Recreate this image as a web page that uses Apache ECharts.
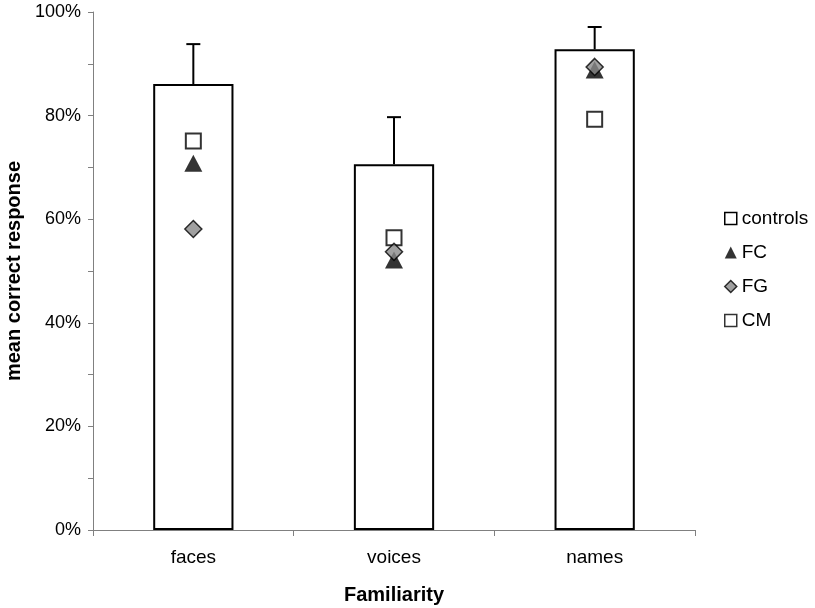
<!DOCTYPE html>
<html>
<head>
<meta charset="utf-8">
<script src="https://cdn.jsdelivr.net/npm/echarts@6/dist/echarts.min.js"></script>
<style>
  html, body { margin: 0; padding: 0; background: #fff; }
  #main { width: 815px; height: 608px; }
</style>
</head>
<body>
<div id="main"></div>
<script>
// familiarity categories
var categories = ["faces", "voices", "names"];
// controls mean (bars) and upper error bar end, in %
var controls = [86.1, 70.6, 92.8];
var controlsErrTop = [93.8, 79.7, 97.1];
// single patients
var fc = [70.8, 52.1, 88.8];
var fg = [58.1, 53.7, 89.4];
var cm = [75.1, 56.4, 79.3];
var yTicks = [0, 20, 40, 60, 80, 100];

var chart = echarts.init(document.getElementById("main"));
var font = "Liberation Sans, Arial, sans-serif";

var errData = categories.map(function (c, i) {
  return [i, controls[i], controlsErrTop[i]];
});

var option = {
  animation: false,
  textStyle: { fontFamily: font },
  grid: { left: 93, right: 120, top: 12, bottom: 78, containLabel: false, outerBoundsMode: "none" },
  legend: {
    orient: "vertical",
    left: 719,
    top: 204,
    itemGap: 15,
    itemWidth: 12,
    itemHeight: 12,
    textStyle: { fontSize: 19, color: "#000", fontFamily: font },
    data: [
      { name: "controls", icon: "rect", itemStyle: { color: "#fff", borderColor: "#000", borderWidth: 1.5 } },
      { name: "FC", icon: "triangle", itemStyle: { color: "#000" } },
      { name: "FG", icon: "diamond", itemStyle: { color: "#888", borderColor: "#000", borderWidth: 1.5 } },
      { name: "CM", icon: "rect", itemStyle: { color: "#fff", borderColor: "#000", borderWidth: 1.5 } }
    ]
  },
  xAxis: {
    type: "category",
    data: categories,
    name: "Familiarity",
    nameLocation: "middle",
    nameGap: 55,
    nameTextStyle: { fontSize: 20, fontWeight: "bold", color: "#000", fontFamily: font },
    axisLine: { lineStyle: { color: "#808080", width: 1 } },
    axisTick: { show: true, length: 6, lineStyle: { color: "#808080" } },
    axisLabel: { fontSize: 19, color: "#000", margin: 18, fontFamily: font }
  },
  yAxis: {
    type: "value",
    min: 0,
    max: 100,
    interval: 10,
    name: "mean correct response",
    nameLocation: "middle",
    nameGap: 68,
    nameTextStyle: { fontSize: 20, fontWeight: "bold", color: "#000", fontFamily: font },
    splitLine: { show: false },
    axisLine: { show: true, lineStyle: { color: "#808080", width: 1 } },
    axisTick: { show: true, length: 5, lineStyle: { color: "#808080" } },
    axisLabel: {
      fontSize: 18,
      color: "#000",
      margin: 12,
      fontFamily: font,
      formatter: function (v) {
        return yTicks.indexOf(v) >= 0 ? v + "%" : "";
      }
    }
  },
  series: [
    {
      name: "controls",
      type: "bar",
      data: controls,
      barWidth: "40%",
      itemStyle: { color: "#fff", borderColor: "#000", borderWidth: 2 },
      z: 2
    },
    {
      name: "err",
      type: "custom",
      data: errData,
      z: 3,
      renderItem: function (params, api) {
        var x = api.value(0);
        var lo = api.coord([x, api.value(1)]);
        var hi = api.coord([x, api.value(2)]);
        var half = 7;
        var st = { stroke: "#000", lineWidth: 2 };
        return {
          type: "group",
          children: [
            { type: "line", shape: { x1: lo[0], y1: lo[1], x2: hi[0], y2: hi[1] }, style: st },
            { type: "line", shape: { x1: hi[0] - half, y1: hi[1], x2: hi[0] + half, y2: hi[1] }, style: st }
          ]
        };
      }
    },
    {
      name: "CM",
      type: "scatter",
      data: cm,
      symbol: "rect",
      symbolSize: 15,
      itemStyle: { color: "#fff", borderColor: "#000", borderWidth: 2 },
      z: 4
    },
    {
      name: "FG",
      type: "scatter",
      data: fg,
      symbol: "diamond",
      symbolSize: [17, 17],
      itemStyle: { color: "#888", borderColor: "#000", borderWidth: 1.5 },
      z: 5
    },
    {
      name: "FC",
      type: "scatter",
      data: fc,
      symbol: "triangle",
      symbolSize: [18, 17],
      itemStyle: { color: "#000" },
      z: 4
    }
  ]
};
chart.setOption(option);
</script>
</body>
</html>
